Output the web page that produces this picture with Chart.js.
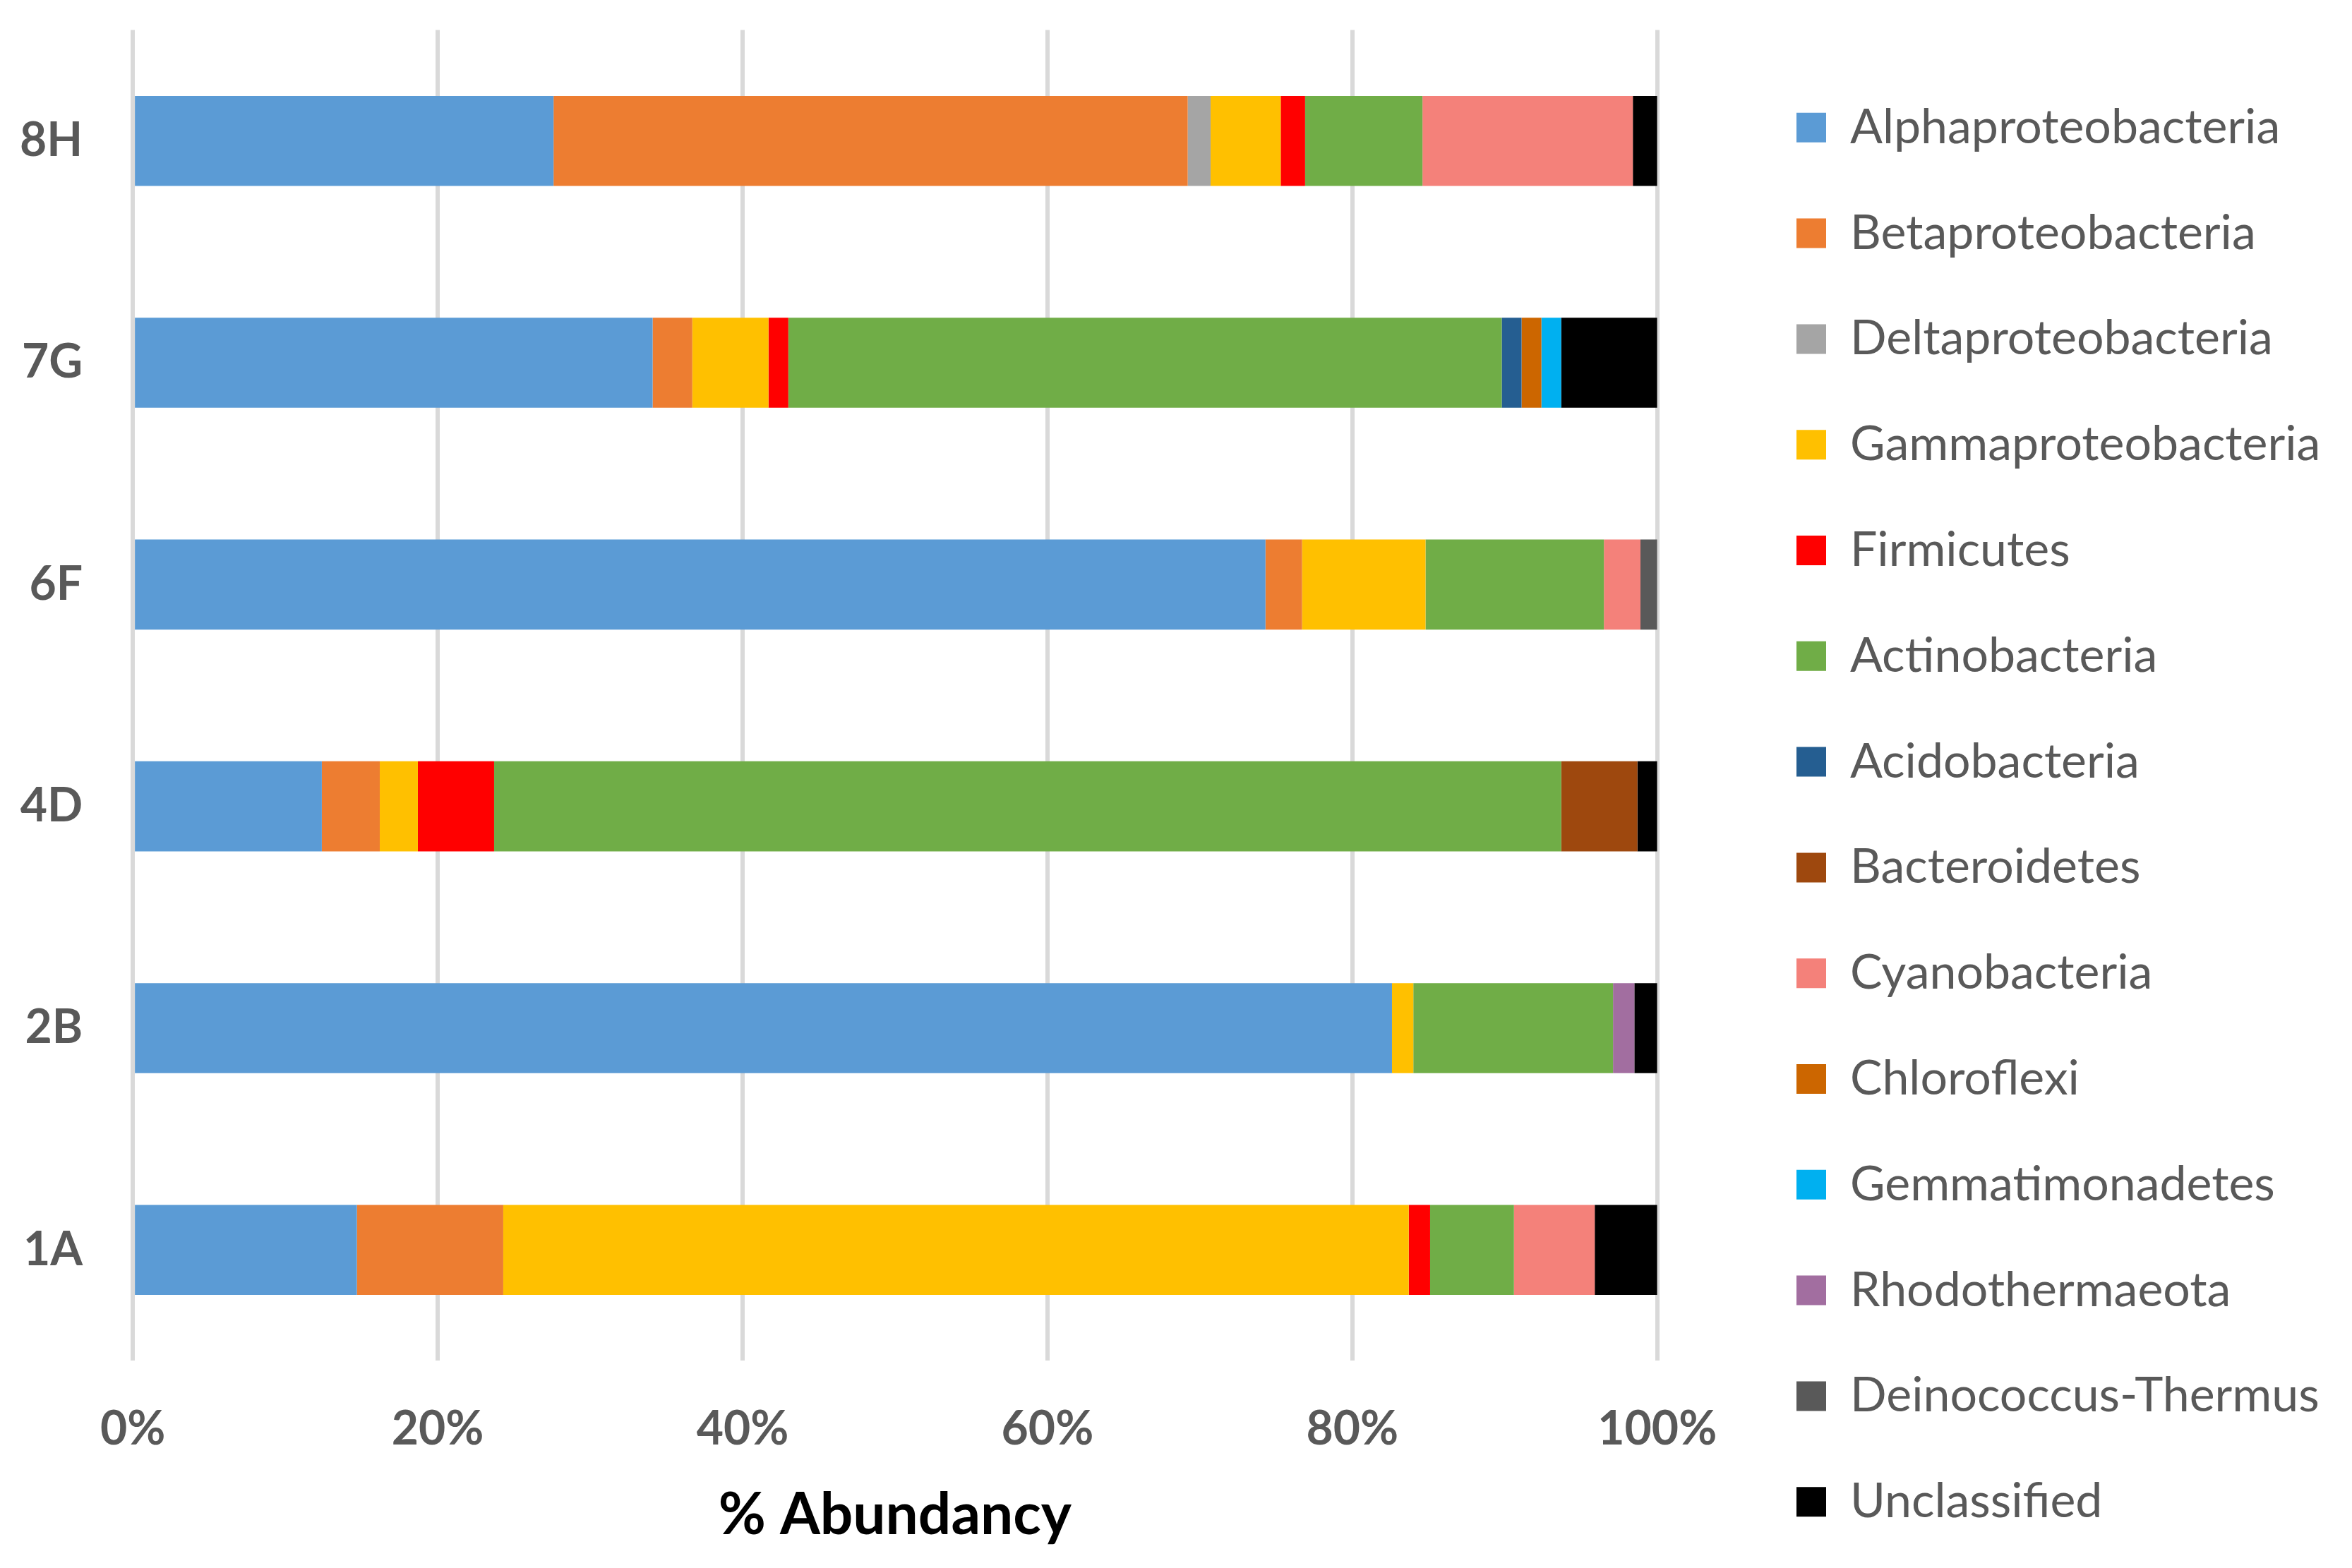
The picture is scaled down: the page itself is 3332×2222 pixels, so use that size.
<!DOCTYPE html>
<html>
<head>
<meta charset="utf-8">
<title>% Abundancy</title>
<script src="https://cdn.jsdelivr.net/npm/chart.js@4.4.1/dist/chart.umd.min.js"></script>
<style>
  html, body { margin: 0; padding: 0; background: #ffffff; }
  #wrap { width: 3332px; height: 2222px; }
</style>
</head>
<body>
<div id="wrap"><canvas id="abundancyChart" width="3332" height="2222"></canvas></div>
<script>
// Muestras (de arriba hacia abajo)
const samples = ['8H', '7G', '6F', '4D', '2B', '1A'];
const xTicks = [0, 20, 40, 60, 80, 100];

// % de abundancia por grupo, en el orden de samples
const alphaproteobacteria = [27.6, 34.1, 74.3, 12.4, 82.6, 14.7];
const betaproteobacteria  = [41.6, 2.6, 2.4, 3.8, 0, 9.6];
const deltaproteobacteria = [1.5, 0, 0, 0, 0, 0];
const gammaproteobacteria = [4.6, 5.0, 8.1, 2.5, 1.4, 59.4];
const firmicutes          = [1.6, 1.3, 0, 5.0, 0, 1.4];
const actinobacteria      = [7.7, 46.8, 11.7, 70.0, 13.1, 5.5];
const acidobacteria       = [0, 1.3, 0, 0, 0, 0];
const bacteroidetes       = [0, 0, 0, 5.0, 0, 0];
const cyanobacteria       = [13.8, 0, 2.4, 0, 0, 5.3];
const chloroflexi         = [0, 1.3, 0, 0, 0, 0];
const gemmatimonadetes    = [0, 1.3, 0, 0, 0, 0];
const rhodothermaeota     = [0, 0, 0, 0, 1.4, 0];
const deinococcusThermus  = [0, 0, 1.1, 0, 0, 0];
const unclassified        = [1.6, 6.3, 0, 1.3, 1.5, 4.1];

const series = [
    ['Alphaproteobacteria', alphaproteobacteria, '#5B9BD5'],
    ['Betaproteobacteria', betaproteobacteria, '#ED7D31'],
    ['Deltaproteobacteria', deltaproteobacteria, '#A5A5A5'],
    ['Gammaproteobacteria', gammaproteobacteria, '#FFC000'],
    ['Firmicutes', firmicutes, '#FF0000'],
    ['Actinobacteria', actinobacteria, '#70AD47'],
    ['Acidobacteria', acidobacteria, '#255E91'],
    ['Bacteroidetes', bacteroidetes, '#9E480E'],
    ['Cyanobacteria', cyanobacteria, '#F4817A'],
    ['Chloroflexi', chloroflexi, '#CC6600'],
    ['Gemmatimonadetes', gemmatimonadetes, '#00B0F0'],
    ['Rhodothermaeota', rhodothermaeota, '#A26EA0'],
    ['Deinococcus-Thermus', deinococcusThermus, '#595959'],
    ['Unclassified', unclassified, '#000000']
];

const textGray = '#595959';
const legendPad = 81.8;

// Mueve la leyenda a su sitio (por defecto queda pegada al área del gráfico)
const legendPlace = {
    id: 'legendPlace',
    afterLayout(chart) {
        const lg = chart.legend;
        const dy = 65 - lg.top;
        lg.left = 2545 - legendPad;
        lg.right = chart.width;
        lg.top += dy;
        lg.bottom += dy;
    }
};

document.addEventListener('DOMContentLoaded', function() {
    const ctx = document.getElementById('abundancyChart').getContext('2d');
    new Chart(ctx, {
        type: 'bar',
        data: {
            labels: samples,
            datasets: series.map(s => ({
                label: s[0],
                data: s[1],
                backgroundColor: s[2],
                borderWidth: 0,
                barPercentage: 0.406,
                categoryPercentage: 1
            }))
        },
        options: {
            indexAxis: 'y',
            responsive: false,
            devicePixelRatio: 1,
            animation: false,
            layout: {
                padding: { left: 25, right: 210, top: 0, bottom: 0 }
            },
            scales: {
                x: {
                    stacked: true,
                    min: 0,
                    max: 100,
                    afterBuildTicks: axis => { axis.ticks = xTicks.map(v => ({ value: v })); },
                    border: { display: false },
                    grid: {
                        color: '#D9D9D9',
                        lineWidth: 6,
                        drawTicks: true,
                        tickLength: 58,
                        tickColor: 'rgba(0,0,0,0)'
                    },
                    ticks: {
                        padding: 0,
                        color: textGray,
                        font: { family: 'Lato', size: 66, weight: 'bold' },
                        callback: v => v + '%'
                    },
                    title: {
                        display: true,
                        text: '% Abundancy',
                        color: '#000000',
                        font: { family: 'Lato', size: 82, weight: 'bold' },
                        padding: { top: 33, bottom: 25 }
                    }
                },
                y: {
                    stacked: true,
                    border: { display: false },
                    grid: { display: false, drawTicks: true, tickLength: 68 },
                    ticks: {
                        padding: 3,
                        color: textGray,
                        font: { family: 'Lato', size: 66, weight: 'bold' }
                    }
                }
            },
            plugins: {
                legend: {
                    position: 'right',
                    align: 'start',
                    labels: {
                        boxWidth: 42,
                        boxHeight: 42,
                        padding: legendPad,
                        color: textGray,
                        font: { family: 'Lato', size: 68 }
                    }
                },
                tooltip: { enabled: false }
            }
        },
        plugins: [legendPlace]
    });
});
</script>
</body>
</html>
